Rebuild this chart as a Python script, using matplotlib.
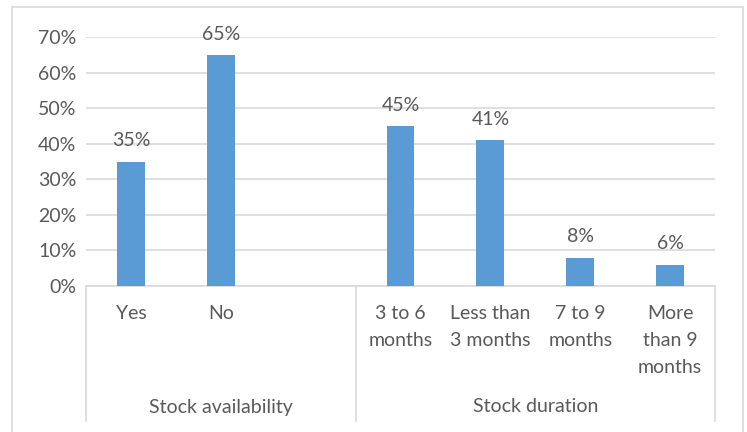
import matplotlib.pyplot as plt
from matplotlib.lines import Line2D
from matplotlib.patches import Rectangle

plt.rcParams['font.family'] = ['Lato', 'DejaVu Sans']

categories = ["Yes", "No", "", "3 to 6\nmonths", "Less than\n3 months", "7 to 9\nmonths", "More\nthan 9\nmonths"]
values = [0.35, 0.65, None, 0.45, 0.41, 0.08, 0.06]
value_labels = ["35%", "65%", "", "45%", "41%", "8%", "6%"]
groups = ["Stock availability", "Stock duration"]
group_sizes = [3, 4]

W, H = 747, 432
fig = plt.figure(figsize=(W / 100, H / 100), dpi=100)
text_color = "#595959"
grid_color = "#D9D9D9"
fs = 14

# outer chart border
fig.patches.append(Rectangle((12 / W, -0.05), (743 - 12) / W, (H - 7) / H + 0.05,
                             transform=fig.transFigure, fill=False, edgecolor=grid_color, linewidth=1.2))

x0, x1, y0, y1 = 86, 715, 286, 37
ax = fig.add_axes([x0 / W, 1 - y0 / H, (x1 - x0) / W, (y0 - y1) / H])

xs = list(range(len(categories)))
for x, v, lab in zip(xs, values, value_labels):
    if v is None:
        continue
    ax.bar(x, v, width=0.31, color="#5B9BD5", zorder=3)
    ax.annotate(lab, (x, v), xytext=(0, 11), textcoords="offset points",
                ha="center", va="baseline", fontsize=fs, color=text_color)

ax.set_xlim(-0.5, len(categories) - 0.5)
ax.set_ylim(0, 0.7)
ax.set_yticks([i / 10 for i in range(8)])
ax.set_yticklabels([f"{i * 10}%" for i in range(8)])
ax.tick_params(axis="y", length=0, labelsize=fs, labelcolor=text_color, pad=7)
ax.set_xticks([])
ax.grid(axis="y", color=grid_color, linewidth=1.2, zorder=0)
for s in ["top", "right", "left"]:
    ax.spines[s].set_visible(False)
ax.spines["bottom"].set_color(grid_color)
ax.spines["bottom"].set_linewidth(1.2)

# category labels
slot = (x1 - x0) / len(categories)
for i, c in enumerate(categories):
    cx = (x0 + slot * (i + 0.5)) / W
    fig.text(cx, 1 - 305 / H, c, ha="center", va="top", fontsize=fs, color=text_color,
             linespacing=1.7, transform=fig.transFigure)

# group dividers and labels
start = 0
bottom_y = 1 - 421 / H
for g, n in zip(groups, group_sizes):
    left = x0 + slot * start
    right = x0 + slot * (start + n)
    fig.text((left + right) / 2 / W, 1 - 407 / H, g, ha="center", va="center",
             fontsize=fs, color=text_color)
    start += n
for xd in [x0, x0 + slot * 3, x1]:
    fig.add_artist(Line2D([xd / W, xd / W], [1 - y0 / H, bottom_y],
                          color=grid_color, linewidth=1.2, transform=fig.transFigure))

fig.savefig("out.png", dpi=100, facecolor="white")
